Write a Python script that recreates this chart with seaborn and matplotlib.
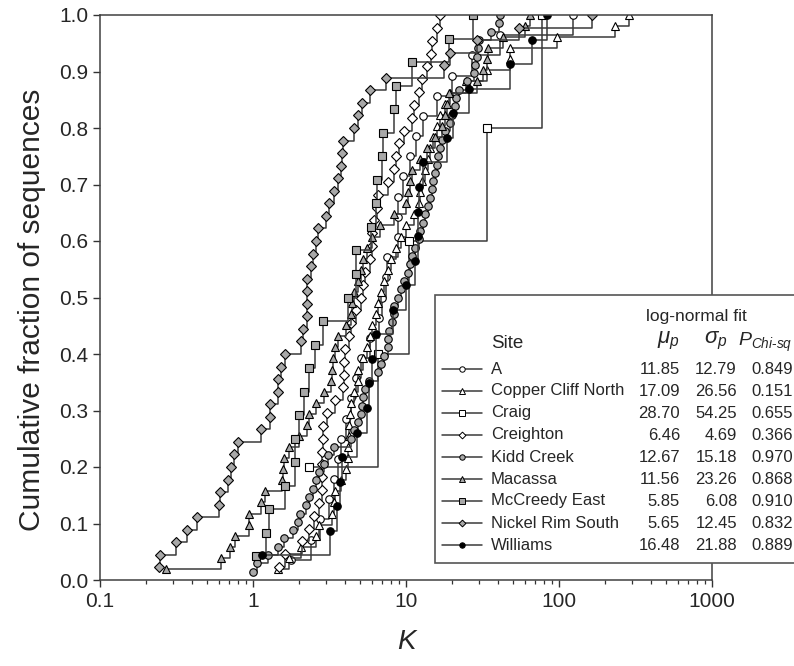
import numpy as np
import pandas as pd
import matplotlib
matplotlib.use("Agg")
import matplotlib.pyplot as plt
import seaborn as sns
from matplotlib.patches import Rectangle
from matplotlib.lines import Line2D

sites = ["A", "Copper Cliff North", "Craig", "Creighton", "Kidd Creek",
         "Macassa", "McCreedy East", "Nickel Rim South", "Williams"]

k_a = [1.76, 2.38, 2.76, 3.12, 3.36, 3.57, 3.74, 4.03, 4.34, 4.68, 5.05, 5.86,
       6.62, 7.02, 7.35, 7.46, 8.80, 8.80, 8.80, 9.50, 10.6, 11.7, 13.0, 16.0,
       20.1, 27.2, 41.2, 123]
k_ccn = [1.45, 1.71, 2.05, 2.57, 2.72, 3.26, 3.36, 3.46, 3.74, 4.03, 4.15, 4.15,
         4.21, 4.21, 4.28, 4.34, 4.54, 4.82, 4.82, 5.20, 5.59, 5.86, 6.04, 6.32,
         6.52, 6.82, 7.13, 7.58, 7.93, 8.54, 9.22, 9.95, 11.2, 12.1, 12.4, 12.8,
         13.4, 14.0, 14.4, 15.1, 16.0, 16.8, 18.1, 19.5, 24.6, 33.9, 47.9, 47.9,
         97.0, 233, 287]
k_craig = [2.34, 6.61, 10.4, 34.0, 77.7]
k_creighton = [1.49, 1.61, 2.08, 2.34, 2.49, 2.68, 2.81, 2.81, 2.81, 2.81, 2.85,
               2.85, 3.03, 3.46, 3.85, 3.91, 3.91, 3.97, 4.21, 4.34, 4.68, 5.05,
               5.20, 5.43, 5.86, 5.95, 6.04, 6.22, 6.42, 6.52, 7.58, 8.29, 8.54,
               8.94, 9.65, 10.9, 11.2, 12.1, 12.8, 13.8, 14.6, 14.9, 16.0, 16.8]
k_kidd = [1.0, 1.07, 1.25, 1.45, 1.59, 1.82, 1.96, 2.02, 2.21, 2.34, 2.45, 2.57,
          2.72, 2.89, 3.07, 3.36, 4.34, 4.54, 4.82, 5.05, 5.12, 5.20, 5.43, 5.77,
          6.52, 6.82, 7.13, 7.58, 7.58, 7.69, 8.05, 8.29, 8.29, 8.80, 9.22, 9.65,
          10.3, 10.7, 11.0, 11.5, 12.1, 12.4, 13.0, 13.4, 14.0, 14.4, 14.9, 15.1,
          15.5, 16.0, 16.3, 16.8, 17.3, 18.1, 19.5, 20.1, 21.0, 21.3, 22.3, 25.1,
          27.9, 28.3, 29.2, 29.6, 30.1, 36.0, 40.6, 41.2]
k_macassa = [0.269, 0.615, 0.705, 0.760, 0.937, 0.937, 1.12, 1.19, 1.54, 1.56,
             1.59, 1.71, 1.99, 2.27, 2.34, 2.60, 2.89, 3.22, 3.26, 3.31, 3.41,
             3.57, 4.03, 4.34, 4.47, 4.54, 4.82, 5.05, 5.27, 5.59, 6.04, 6.72,
             8.29, 9.95, 10.3, 10.6, 10.9, 12.4, 13.8, 15.5, 17.3, 18.1, 18.4,
             19.2, 29.2, 31.9, 33.9, 34.4, 43.1, 59.9, 64.7]
k_mccreedy = [1.04, 1.21, 1.28, 1.63, 1.87, 1.87, 1.99, 2.17, 2.34, 2.53, 2.85,
              4.15, 4.68, 4.68, 5.87, 6.41, 6.50, 7.02, 7.10, 8.41, 8.66, 11.0,
              19.2, 27.5]
k_nrs = [0.243, 0.246, 0.313, 0.369, 0.430, 0.597, 0.606, 0.684, 0.715, 0.748,
         0.794, 1.12, 1.30, 1.30, 1.45, 1.45, 1.52, 1.61, 2.05, 2.11, 2.24, 2.24,
         2.24, 2.27, 2.38, 2.45, 2.60, 2.64, 2.98, 3.12, 3.36, 3.57, 3.74, 3.79,
         3.85, 4.54, 4.82, 5.12, 5.78, 7.35, 17.6, 19.5, 29.2, 55.0, 165]
k_williams = [1.14, 3.17, 3.52, 3.73, 3.79, 4.75, 5.52, 5.69, 6.04, 6.32, 8.28,
              10.07, 11.4, 11.9, 12.05, 12.2, 13.0, 18.4, 20.4, 25.9, 48.1, 66.9,
              83.7]

mu_p = ["11.85", "17.09", "28.70", "6.46", "12.67", "11.56", "5.85", "5.65", "16.48"]
sigma_p = ["12.79", "26.56", "54.25", "4.69", "15.18", "23.26", "6.08", "12.45", "21.88"]
p_chisq = ["0.849", "0.151", "0.655", "0.366", "0.970", "0.868", "0.910", "0.832", "0.889"]

x_ticks = [0.1, 1, 10, 100, 1000]
x_ticklabels = ["0.1", "1", "10", "100", "1000"]
y_ticks = [0.0, 0.1, 0.2, 0.3, 0.4, 0.5, 0.6, 0.7, 0.8, 0.9, 1.0]

series = [k_a, k_ccn, k_craig, k_creighton, k_kidd, k_macassa, k_mccreedy, k_nrs, k_williams]

GRAY = "#a8a8a8"
LINE = "#3a3a3a"
markers = ["o", "^", "s", "D", "o", "^", "s", "D", "o"]
faces = ["white", "white", "white", "white", GRAY, GRAY, GRAY, GRAY, "black"]
msizes = [5.4, 6.2, 5.6, 4.8, 5.4, 6.2, 5.6, 4.8, 5.4]

rows = []
for s, ks in zip(sites, series):
    ks = sorted(ks)
    n = len(ks)
    for i, k in enumerate(ks):
        rows.append({"Site": s, "K": k, "frac": (i + 1) / n})
df = pd.DataFrame(rows)

sns.set_theme(style="ticks")
plt.rcParams["font.family"] = ["Liberation Sans", "DejaVu Sans"]
plt.rcParams["mathtext.fontset"] = "custom"
plt.rcParams["mathtext.it"] = "Liberation Sans:italic"
plt.rcParams["mathtext.rm"] = "Liberation Sans"

W, H = 794, 666
fig = plt.figure(figsize=(W / 100, H / 100), dpi=100)
ax = fig.add_axes([100 / W, (H - 580) / H, (712 - 100) / W, (580 - 15) / H])
ax.set_xscale("log")

for s, m, fc, ms in zip(sites, markers, faces, msizes):
    d = df[df["Site"] == s]
    sns.lineplot(data=d, x="K", y="frac", ax=ax, estimator=None, sort=False,
                 drawstyle="steps-post", color=LINE, linewidth=1.1,
                 marker=m, markersize=ms, markerfacecolor=fc,
                 markeredgecolor="black", markeredgewidth=0.8, legend=False)

ax.set_xlim(0.1, 1000)
ax.set_ylim(0, 1.0)
ax.set_xticks(x_ticks)
ax.set_xticklabels(x_ticklabels)
ax.set_yticks(y_ticks)
ax.set_yticklabels([f"{v:.1f}" for v in y_ticks])
ax.tick_params(axis="both", which="major", direction="out", length=5, width=1.0,
               labelsize=15, color="#333333", top=False, right=False)
ax.tick_params(axis="x", which="minor", direction="out", length=3, width=0.9,
               color="#333333", top=False)
for sp in ax.spines.values():
    sp.set_color("#404040")
    sp.set_linewidth(1.1)
ax.set_xlabel("K", fontsize=20, style="italic", labelpad=13)
ax.set_ylabel("Cumulative fraction of sequences", fontsize=21.5)
ax.yaxis.set_label_coords(-0.088, 0.478)

# overlay for the fit table / legend
lax = fig.add_axes([0, 0, 1, 1], zorder=5)
lax.set_xlim(0, W)
lax.set_ylim(H, 0)
lax.axis("off")
lax.add_patch(Rectangle((435, 295), 380, 268, facecolor="white",
                        edgecolor="#555555", linewidth=1.2))
fs = 12
lax.text(696, 316, "log-normal fit", ha="center", va="center", fontsize=fs + 0.5)
lax.text(491, 343, "Site", ha="left", va="center", fontsize=fs + 1.5)
lax.text(668, 341, r"$\mu_p$", ha="center", va="center", fontsize=fs + 4)
lax.text(716, 341, r"$\sigma_p$", ha="center", va="center", fontsize=fs + 4)
lax.text(792, 342, r"$P_{Chi\text{-}sq}$", ha="right", va="center", fontsize=fs + 2)
for i, s in enumerate(sites):
    y = 369 + 22 * i
    lax.add_line(Line2D([442, 482], [y, y], color=LINE, linewidth=1.1))
    lax.plot([462], [y], marker=markers[i], markersize=msizes[i] * 0.72,
             markerfacecolor=faces[i], markeredgecolor="black",
             markeredgewidth=0.7, linestyle="none")
    lax.text(491, y, s, ha="left", va="center", fontsize=fs)
    lax.text(680, y, mu_p[i], ha="right", va="center", fontsize=fs)
    lax.text(737, y, sigma_p[i], ha="right", va="center", fontsize=fs)
    lax.text(793, y, p_chisq[i], ha="right", va="center", fontsize=fs)

fig.savefig("out.png", dpi=100)
